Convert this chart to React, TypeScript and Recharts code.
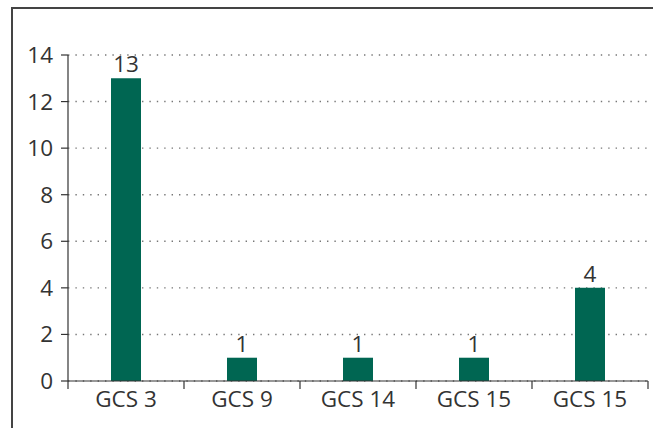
import { BarChart, Bar, XAxis, YAxis, CartesianGrid, LabelList } from "recharts";

const categories = ["GCS 3", "GCS 9", "GCS 14", "GCS 15", "GCS 15"];
const counts = [13, 1, 1, 1, 4];
const yTicks = [0, 2, 4, 6, 8, 10, 12, 14];

const data = categories.map((name, i) => ({ name, count: counts[i] }));

const INK = "#333333";
const FONT = "'Open Sans', sans-serif";

function CategoryTick(props: any) {
  const { x, y, payload, index, visibleTicksCount } = props;
  const half = payload.offset || 0;
  const isLast = index === visibleTicksCount - 1;
  return (
    <g>
      <line x1={x - half} y1={y - 8} x2={x - half} y2={y} stroke={INK} strokeWidth={1.2} />
      {isLast && (
        <line x1={x + half} y1={y - 8} x2={x + half} y2={y} stroke={INK} strokeWidth={1.2} />
      )}
      <text
        x={x}
        y={y}
        dy={18}
        textAnchor="middle"
        fill={INK}
        fontSize={22.5}
        fontFamily={FONT}
      >
        {payload.value}
      </text>
    </g>
  );
}

export default function App() {
  return (
    <div
      style={{
        position: "absolute",
        left: 0,
        top: 0,
        width: 653,
        height: 428,
        background: "#fff",
        overflow: "hidden",
      }}
    >
      {/* frame */}
      <div
        style={{
          position: "absolute",
          left: 11,
          top: 7,
          width: 660,
          height: 440,
          borderTop: "2px solid #444",
          borderLeft: "2px solid #444",
        }}
      />
      <div style={{ position: "absolute", left: 0, top: 0 }}>
        <BarChart
          width={653}
          height={428}
          data={data}
          margin={{ top: 55, right: 5, bottom: 17, left: 0 }}
          barCategoryGap={0}
        >
          <CartesianGrid
            vertical={false}
            stroke="#777"
            strokeDasharray="1.4 6"
            strokeWidth={1.4}
          />
          <XAxis
            dataKey="name"
            height={30}
            axisLine={{ stroke: INK, strokeWidth: 1.2 }}
            tickLine={false}
            tick={<CategoryTick />}
            interval={0}
          />
          <YAxis
            width={68}
            domain={[0, 14]}
            ticks={yTicks}
            interval={0}
            axisLine={{ stroke: INK, strokeWidth: 1.2 }}
            tickLine={{ stroke: INK, strokeWidth: 1.2 }}
            tickSize={7}
            tickMargin={8}
            tick={{ fill: INK, fontSize: 22.5, fontFamily: FONT }}
          />
          <Bar dataKey="count" fill="#006652" barSize={30} isAnimationActive={false}>
            <LabelList
              dataKey="count"
              position="top"
              offset={6}
              fill={INK}
              fontSize={22.5}
              fontFamily={FONT}
            />
          </Bar>
        </BarChart>
      </div>
    </div>
  );
}
